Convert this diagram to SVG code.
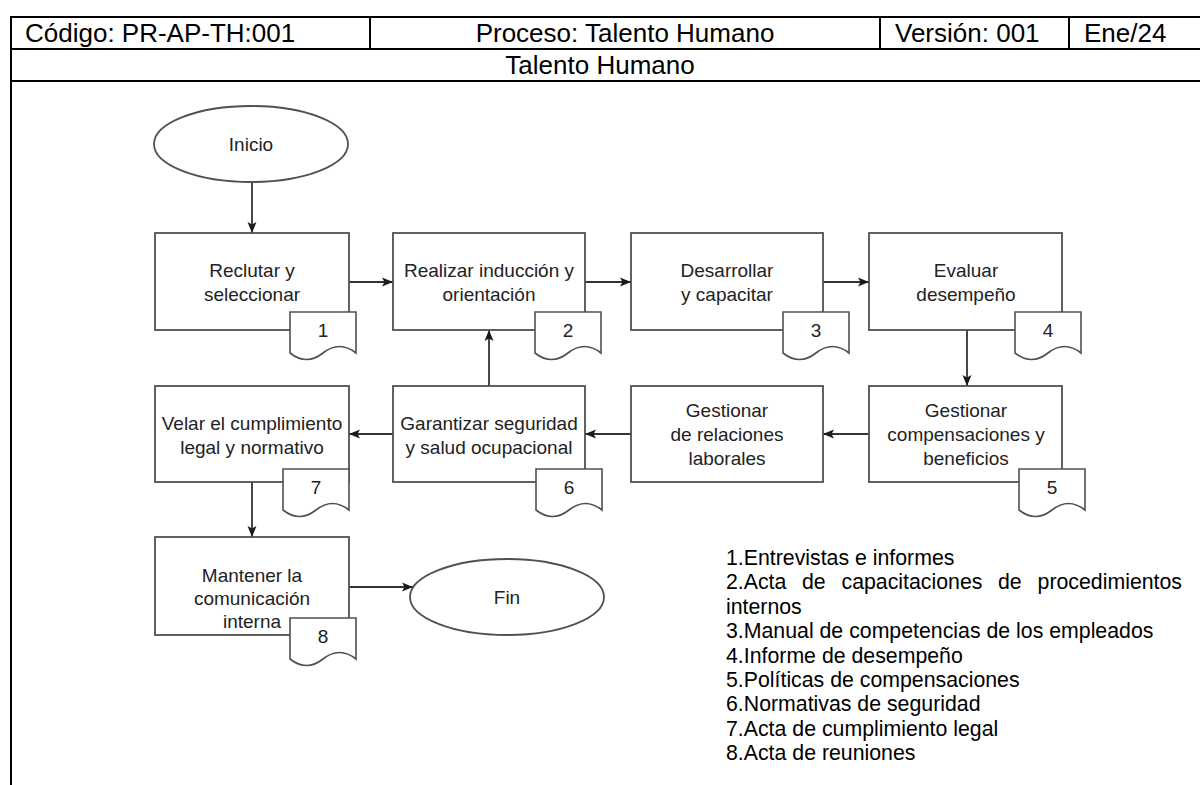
<svg xmlns="http://www.w3.org/2000/svg" width="1200" height="785" viewBox="0 0 1200 785">
  <style>
    .hdr { font-family: "Liberation Sans", Arial, sans-serif; font-size: 26px; fill: #000; }
    .frame { stroke: #000; stroke-width: 2; fill: none; }
    .box { fill: #fff; stroke: #505050; stroke-width: 1.8; }
    .doc { fill: #fff; stroke: #505050; stroke-width: 1.6; }
    .lbl { font-family: "Liberation Sans", Arial, sans-serif; font-size: 19px; fill: #222; text-anchor: middle; }
    .num { font-family: "Liberation Sans", Arial, sans-serif; font-size: 19px; fill: #222; text-anchor: middle; }
    .edge { stroke: #333; stroke-width: 1.8; fill: none; marker-end: url(#arrow); }
    .legend { font-family: "Liberation Sans", Arial, sans-serif; font-size: 21.3px; fill: #000; }
  </style>
  <defs>
    <marker id="arrow" markerWidth="12" markerHeight="10" refX="11" refY="5" orient="auto" markerUnits="userSpaceOnUse">
      <path d="M0,0.5 L11,5 L0,9.5 L2.5,5 Z" fill="#1a1a1a"/>
    </marker>
    <!-- document shape with wavy bottom, 66 x 48 -->
    <path id="docShape" d="M0,0 L66,0 L66,41 Q49.5,28 33,41 Q16.5,54 0,41 Z"/>
  </defs>

  <rect width="1200" height="785" fill="#fff"/>

  <!-- header table -->
  <g id="header">
    <line class="frame" x1="10" y1="17" x2="1200" y2="17"/>
    <line class="frame" x1="10" y1="49" x2="1200" y2="49"/>
    <line class="frame" x1="10" y1="81" x2="1200" y2="81"/>
    <line class="frame" x1="11" y1="16" x2="11" y2="785"/>
    <line class="frame" x1="370" y1="17" x2="370" y2="49"/>
    <line class="frame" x1="880" y1="17" x2="880" y2="49"/>
    <line class="frame" x1="1069" y1="17" x2="1069" y2="49"/>
    <text class="hdr" x="25" y="42">Código: PR-AP-TH:001</text>
    <text class="hdr" x="625" y="42" text-anchor="middle">Proceso: Talento Humano</text>
    <text class="hdr" x="895" y="42">Versión: 001</text>
    <text class="hdr" x="1084" y="42">Ene/24</text>
    <text class="hdr" x="600" y="74" text-anchor="middle">Talento Humano</text>
  </g>

  <!-- connectors -->
  <g id="connectors">
    <line class="edge" x1="252" y1="182" x2="252" y2="233"/>
    <line class="edge" x1="349" y1="282" x2="393" y2="282"/>
    <line class="edge" x1="585" y1="282" x2="631" y2="282"/>
    <line class="edge" x1="823" y1="282" x2="869" y2="282"/>
    <line class="edge" x1="967" y1="330" x2="967" y2="386"/>
    <line class="edge" x1="869" y1="434" x2="823" y2="434"/>
    <line class="edge" x1="631" y1="434" x2="585" y2="434"/>
    <line class="edge" x1="489" y1="386" x2="489" y2="330"/>
    <line class="edge" x1="393" y1="434" x2="349" y2="434"/>
    <line class="edge" x1="252" y1="481" x2="252" y2="537"/>
    <line class="edge" x1="349" y1="587" x2="413" y2="587"/>
  </g>

  <g id="inicio">
    <ellipse class="box" cx="251" cy="144" rx="97" ry="38"/>
    <text class="lbl" x="251" y="151">Inicio</text>
  </g>

  <g id="reclutar">
    <rect class="box" x="155" y="233" width="194" height="97"/>
    <text class="lbl" x="252" y="277">Reclutar y</text>
    <text class="lbl" x="252" y="301">seleccionar</text>
    <use href="#docShape" class="doc" x="290" y="312"/>
    <text class="num" x="323" y="337">1</text>
  </g>

  <g id="induccion">
    <rect class="box" x="393" y="233" width="192" height="97"/>
    <text class="lbl" x="489" y="277">Realizar inducción y</text>
    <text class="lbl" x="489" y="301">orientación</text>
    <use href="#docShape" class="doc" x="535" y="312"/>
    <text class="num" x="568" y="337">2</text>
  </g>

  <g id="desarrollar">
    <rect class="box" x="631" y="233" width="192" height="97"/>
    <text class="lbl" x="727" y="277">Desarrollar</text>
    <text class="lbl" x="727" y="301">y capacitar</text>
    <use href="#docShape" class="doc" x="783" y="312"/>
    <text class="num" x="816" y="337">3</text>
  </g>

  <g id="evaluar">
    <rect class="box" x="869" y="233" width="193" height="97"/>
    <text class="lbl" x="966" y="277">Evaluar</text>
    <text class="lbl" x="966" y="301">desempeño</text>
    <use href="#docShape" class="doc" x="1015" y="312"/>
    <text class="num" x="1048" y="337">4</text>
  </g>

  <g id="compensaciones">
    <rect class="box" x="869" y="386" width="193" height="96"/>
    <text class="lbl" x="966" y="417">Gestionar</text>
    <text class="lbl" x="966" y="441">compensaciones y</text>
    <text class="lbl" x="966" y="465">beneficios</text>
    <use href="#docShape" class="doc" x="1019" y="469"/>
    <text class="num" x="1052" y="494">5</text>
  </g>

  <g id="relaciones">
    <rect class="box" x="631" y="386" width="192" height="96"/>
    <text class="lbl" x="727" y="417">Gestionar</text>
    <text class="lbl" x="727" y="441">de relaciones</text>
    <text class="lbl" x="727" y="465">laborales</text>
  </g>

  <g id="seguridad">
    <rect class="box" x="393" y="386" width="192" height="96"/>
    <text class="lbl" x="489" y="430">Garantizar seguridad</text>
    <text class="lbl" x="489" y="454">y salud ocupacional</text>
    <use href="#docShape" class="doc" x="536" y="469"/>
    <text class="num" x="569" y="494">6</text>
  </g>

  <g id="cumplimiento">
    <rect class="box" x="155" y="386" width="194" height="96"/>
    <text class="lbl" x="252" y="430">Velar el cumplimiento</text>
    <text class="lbl" x="252" y="454">legal y normativo</text>
    <use href="#docShape" class="doc" x="283" y="469"/>
    <text class="num" x="316" y="494">7</text>
  </g>

  <g id="comunicacion">
    <rect class="box" x="155" y="537" width="194" height="98"/>
    <text class="lbl" x="252" y="582">Mantener la</text>
    <text class="lbl" x="252" y="605">comunicación</text>
    <text class="lbl" x="252" y="628">interna</text>
    <use href="#docShape" class="doc" x="290" y="618"/>
    <text class="num" x="323" y="643">8</text>
  </g>

  <g id="fin">
    <ellipse class="box" cx="507" cy="597" rx="97" ry="38"/>
    <text class="lbl" x="507" y="604">Fin</text>
  </g>

  <!-- list of records produced by each step -->
  <g id="legend" class="legend">
    <text x="726" y="565">1.Entrevistas e informes</text>
    <text y="589.4"><tspan x="726">2.Acta</tspan><tspan x="802">de</tspan><tspan x="841.5">capacitaciones</tspan><tspan x="998">de</tspan><tspan x="1037.6">procedimientos</tspan></text>
    <text x="726" y="613.8">internos</text>
    <text x="726" y="638.2">3.Manual de competencias de los empleados</text>
    <text x="726" y="662.6">4.Informe de desempeño</text>
    <text x="726" y="687">5.Políticas de compensaciones</text>
    <text x="726" y="711.4">6.Normativas de seguridad</text>
    <text x="726" y="735.8">7.Acta de cumplimiento legal</text>
    <text x="726" y="760.2">8.Acta de reuniones</text>
  </g>
</svg>
